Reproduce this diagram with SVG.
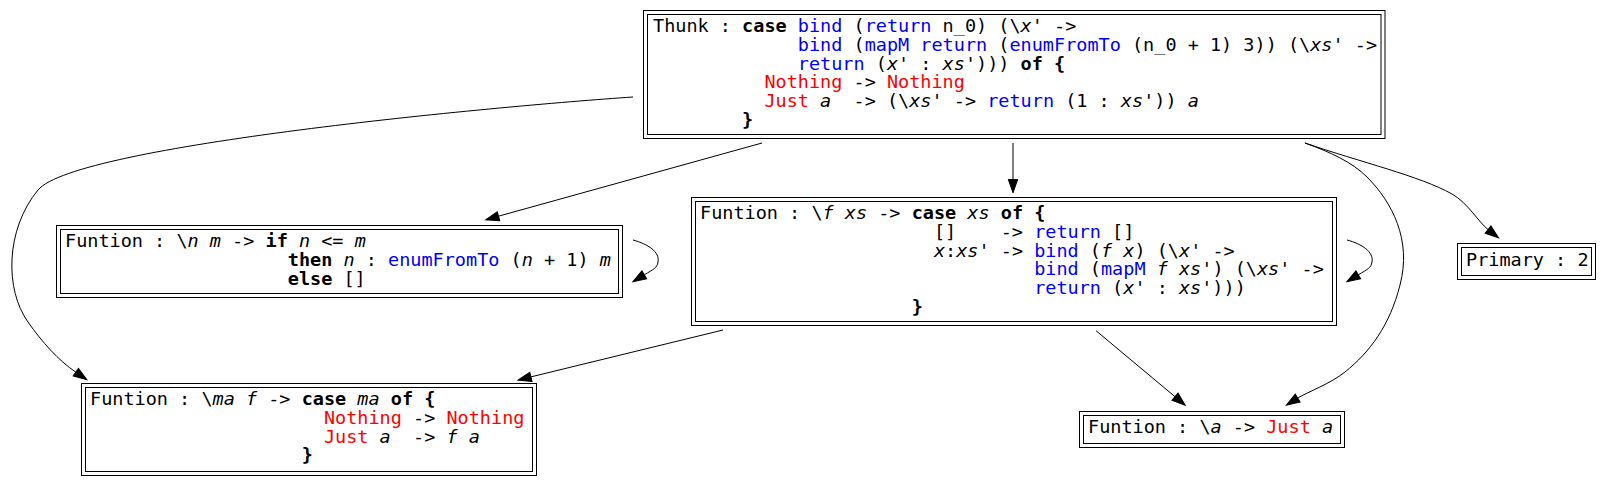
<svg xmlns="http://www.w3.org/2000/svg" width="1611" height="485" viewBox="0 0 1611 485">
<defs>
<style>
.box{fill:none;stroke:#000;stroke-width:1}
text{font-family:"DejaVu Sans Mono","Liberation Mono",monospace;font-size:18.5px;fill:#000;white-space:pre}
.k{font-weight:bold}
.b{fill:#0000ff}
.r{fill:#ff0000}
.i{font-style:italic}
.edge{fill:none;stroke:#000;stroke-width:1}
</style>
<marker id="arr" markerUnits="userSpaceOnUse" viewBox="-1 -6 16 12" markerWidth="16" markerHeight="12" refX="0" refY="0" orient="auto" overflow="visible">
<path d="M0,-4.67 L13.3,0 L0,4.67 Z" fill="#000" stroke="#000" stroke-width="1"/>
</marker>
</defs>
<rect width="1611" height="485" fill="#fff"/>

<g id="edges">
<path class="edge" marker-end="url(#arr)" d="M633,97 C500,106 75,145 38,190 C5,230 5,290 28,322 C42,342 58,360 75.8,372.2"/>
<path class="edge" marker-end="url(#arr)" d="M762,143 L498.5,216.2"/>
<path class="edge" marker-end="url(#arr)" d="M1013,143 L1013,179.5"/>
<path class="edge" marker-end="url(#arr)" d="M1305,143 C1360,162 1420,176 1452,194 C1468,203 1478,221.6 1488.1,229.6"/>
<path class="edge" marker-end="url(#arr)" d="M1305,143 C1330,152 1352,162 1367,177 C1392,202 1412,240 1400,285 C1390,325 1370,352 1345,372 C1330,384 1308,391.7 1297.7,398.1"/>
<path class="edge" marker-end="url(#arr)" d="M633,240 C648,244 660,252 658,262 C657,268 654,269 644.3,274.8"/>
<path class="edge" marker-end="url(#arr)" d="M1347,240 C1362,244 1374,252 1372,262 C1371,268 1368,269 1358.3,274.8"/>
<path class="edge" marker-end="url(#arr)" d="M723,330 L530.9,376.9"/>
<path class="edge" marker-end="url(#arr)" d="M1096,330.7 L1175,396.7"/>
</g>

<g id="node-thunk">
<rect class="box" x="643.5" y="10.5" width="741.5" height="128"/>
<rect class="box" x="647.5" y="14.5" width="733.5" height="120"/>
<text x="653" y="32.3" xml:space="preserve">Thunk : <tspan class="k">case</tspan> <tspan class="b">bind</tspan> (<tspan class="b">return</tspan> n_0) (\<tspan class="i">x</tspan>' -&gt;</text>
<text x="653" y="50.95" xml:space="preserve">             <tspan class="b">bind</tspan> (<tspan class="b">mapM</tspan> <tspan class="b">return</tspan> (<tspan class="b">enumFromTo</tspan> (n_0 + 1) 3)) (\<tspan class="i">xs</tspan>' -&gt;</text>
<text x="653" y="69.6" xml:space="preserve">             <tspan class="b">return</tspan> (<tspan class="i">x</tspan>' : <tspan class="i">xs</tspan>'))) <tspan class="k">of {</tspan></text>
<text x="653" y="88.25" xml:space="preserve">          <tspan class="r">Nothing</tspan> -&gt; <tspan class="r">Nothing</tspan></text>
<text x="653" y="106.9" xml:space="preserve">          <tspan class="r">Just</tspan> <tspan class="i">a</tspan>  -&gt; (\<tspan class="i">xs</tspan>' -&gt; <tspan class="b">return</tspan> (1 : <tspan class="i">xs</tspan>')) <tspan class="i">a</tspan></text>
<text x="653" y="125.55" xml:space="preserve">        <tspan class="k">}</tspan></text>
</g>

<g id="node-enumFromTo">
<rect class="box" x="56.5" y="225.5" width="566" height="72"/>
<rect class="box" x="60.5" y="229.5" width="558" height="64"/>
<text x="65" y="247.3" xml:space="preserve">Funtion : \<tspan class="i">n</tspan> <tspan class="i">m</tspan> -&gt; <tspan class="k">if</tspan> <tspan class="i">n</tspan> &lt;= <tspan class="i">m</tspan></text>
<text x="65" y="265.95" xml:space="preserve">                    <tspan class="k">then</tspan> <tspan class="i">n</tspan> : <tspan class="b">enumFromTo</tspan> (<tspan class="i">n</tspan> + 1) <tspan class="i">m</tspan></text>
<text x="65" y="284.6" xml:space="preserve">                    <tspan class="k">else</tspan> []</text>
</g>

<g id="node-mapM">
<rect class="box" x="691.5" y="197.5" width="645" height="128"/>
<rect class="box" x="695.5" y="201.5" width="637" height="120"/>
<text x="700" y="219.3" xml:space="preserve">Funtion : \<tspan class="i">f</tspan> <tspan class="i">xs</tspan> -&gt; <tspan class="k">case</tspan> <tspan class="i">xs</tspan> <tspan class="k">of {</tspan></text>
<text x="700" y="237.95" xml:space="preserve">                     []    -&gt; <tspan class="b">return</tspan> []</text>
<text x="700" y="256.6" xml:space="preserve">                     <tspan class="i">x</tspan>:<tspan class="i">xs</tspan>' -&gt; <tspan class="b">bind</tspan> (<tspan class="i">f</tspan> <tspan class="i">x</tspan>) (\<tspan class="i">x</tspan>' -&gt;</text>
<text x="700" y="275.25" xml:space="preserve">                              <tspan class="b">bind</tspan> (<tspan class="b">mapM</tspan> <tspan class="i">f</tspan> <tspan class="i">xs</tspan>') (\<tspan class="i">xs</tspan>' -&gt;</text>
<text x="700" y="293.9" xml:space="preserve">                              <tspan class="b">return</tspan> (<tspan class="i">x</tspan>' : <tspan class="i">xs</tspan>')))</text>
<text x="700" y="312.55" xml:space="preserve">                   <tspan class="k">}</tspan></text>
</g>

<g id="node-primary">
<rect class="box" x="1457.5" y="243.5" width="138" height="36"/>
<rect class="box" x="1461.5" y="247.5" width="130" height="28"/>
<text x="1466" y="265.8" xml:space="preserve">Primary : 2</text>
</g>

<g id="node-bind">
<rect class="box" x="81.5" y="383.5" width="455" height="92"/>
<rect class="box" x="85.5" y="387.5" width="447" height="84"/>
<text x="90" y="405.3" xml:space="preserve">Funtion : \<tspan class="i">ma</tspan> <tspan class="i">f</tspan> -&gt; <tspan class="k">case</tspan> <tspan class="i">ma</tspan> <tspan class="k">of {</tspan></text>
<text x="90" y="423.95" xml:space="preserve">                     <tspan class="r">Nothing</tspan> -&gt; <tspan class="r">Nothing</tspan></text>
<text x="90" y="442.6" xml:space="preserve">                     <tspan class="r">Just</tspan> <tspan class="i">a</tspan>  -&gt; <tspan class="i">f</tspan> <tspan class="i">a</tspan></text>
<text x="90" y="461.25" xml:space="preserve">                   <tspan class="k">}</tspan></text>
</g>

<g id="node-just">
<rect class="box" x="1079.5" y="411.5" width="265" height="36"/>
<rect class="box" x="1083.5" y="415.5" width="257" height="28"/>
<text x="1088" y="433.3" xml:space="preserve">Funtion : \<tspan class="i">a</tspan> -&gt; <tspan class="r">Just</tspan> <tspan class="i">a</tspan></text>
</g>
</svg>
